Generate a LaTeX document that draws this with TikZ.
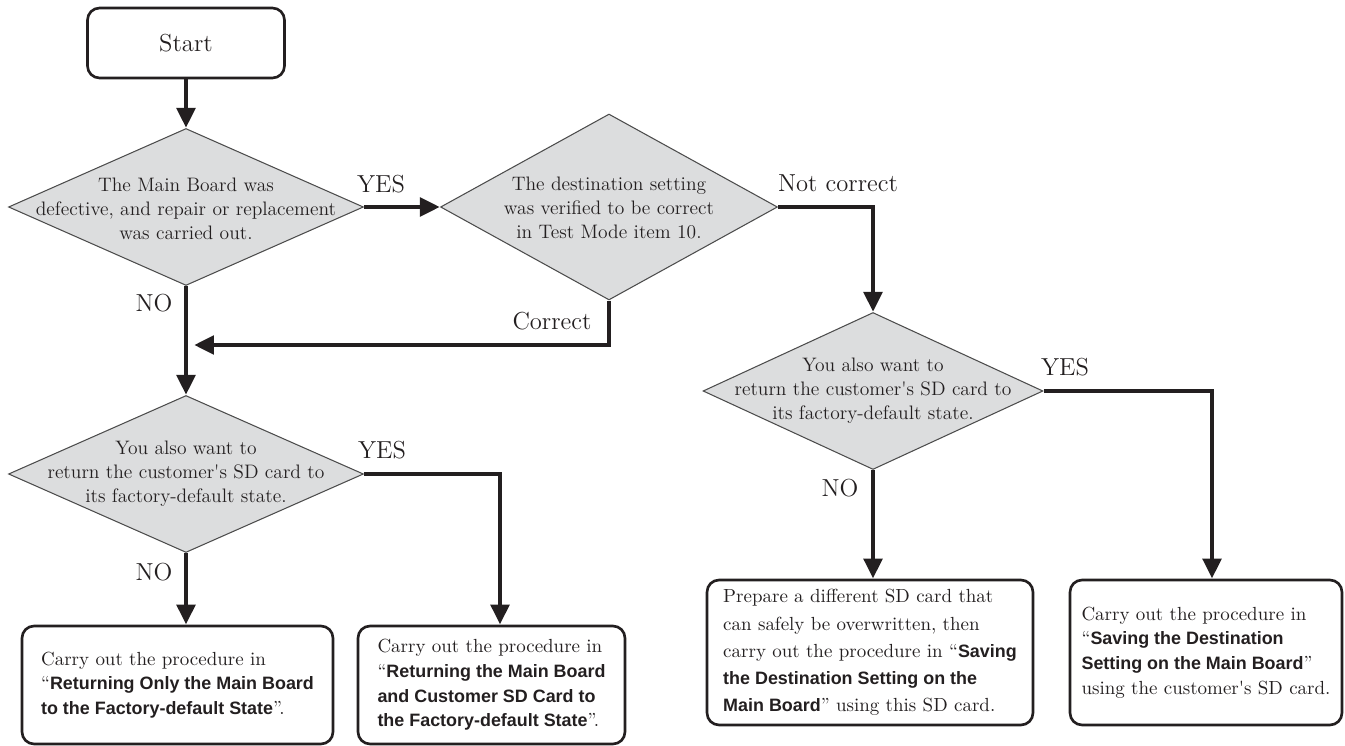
\documentclass[tikz,border=0pt]{standalone}
\usepackage{fontspec}
\newfontfamily\hv{Liberation Sans}
\usetikzlibrary{shapes.geometric,arrows.meta}
\definecolor{ink}{HTML}{231F20}
\definecolor{dfill}{HTML}{DCDDDE}
\newcommand{\refproc}[1]{{\hv\bfseries\fontsize{10.2}{14}\selectfont #1}}

\begin{document}
\begin{tikzpicture}[x=0.02cm,y=-0.02cm,
  flow/.style={draw=ink,line width=2.8pt,-{Triangle[length=0.4cm,width=0.36cm]}},
  decision/.style={diamond,draw=black!70,fill=dfill,line width=0.6pt,inner sep=0pt},
  dtext/.style={align=center,text=ink,font=\fontsize{11.1}{13.7}\selectfont},
  proc/.style={draw=ink,line width=1.5pt,rounded corners=0.24cm,align=left,text=ink,
    font=\fontsize{10.8}{14}\selectfont},
  lbl/.style={text=ink,inner sep=0pt,font=\fontsize{14}{16}\selectfont}]
\useasboundingbox (0,0) rectangle (1345,746);

\node[proc,align=center,minimum width=3.94cm,minimum height=1.4cm,font=\fontsize{14}{16}\selectfont] (start) at (186,43) {Start};

\node[decision,minimum width=7.1cm,minimum height=3.14cm] (d1) at (186,207) {};
\node[dtext] (d1t) at (186,209) {The Main Board was\\defective, and repair or replacement\\was carried out.};
\node[decision,minimum width=6.74cm,minimum height=3.72cm] (d2) at (609,207) {};
\node[dtext] (d2t) at (609,208) {The destination setting\\was verified to be correct\\in Test Mode item 10.};
\node[decision,minimum width=6.8cm,minimum height=3.14cm] (d3) at (873,391) {};
\node[dtext] (d3t) at (873,391) {You also want to\\return the customer\textquotesingle s SD card to\\its factory-default state.};
\node[decision,minimum width=7.1cm,minimum height=3.14cm] (d4) at (186,474) {};
\node[dtext] (d4t) at (186,474) {You also want to\\return the customer\textquotesingle s SD card to\\its factory-default state.};

\node[proc,minimum width=6.22cm,minimum height=2.36cm] (b1) at (177.5,685)
  {Carry out the procedure in\\``\refproc{Returning Only the Main Board}\\\refproc{to the Factory-default State}''.};
\node[proc,minimum width=5.34cm,minimum height=2.36cm] (b2) at (491.5,685)
  {Carry out the procedure in\\``\refproc{Returning the Main Board}\\\refproc{and Customer SD Card to}\\\refproc{the Factory-default State}''.};
\node[proc,minimum width=6.52cm,minimum height=2.9cm,font=\fontsize{10.8}{15.5}\selectfont] (b3) at (870,652.5)
  {Prepare a different SD card that\\can safely be overwritten, then\\carry out the procedure in ``\refproc{Saving}\\\refproc{the Destination Setting on the}\\\refproc{Main Board}'' using this SD card.};
\node[proc,minimum width=5.44cm,minimum height=2.9cm] (b4) at (1206,652.5)
  {Carry out the procedure in\\``\refproc{Saving the Destination}\\\refproc{Setting on the Main Board}''\\using the customer\textquotesingle s SD card.};

\foreach \x/\y/\t [count=\i] in {381/184/YES,154/303/NO,552/321/Correct,838/183/Not correct,
    382/450/YES,154/572/NO,1065/367/YES,840/488/NO}
  \node[lbl] (lbl\i) at (\x,\y) {\t};

\coordinate (merge) at (194,345);
\draw[flow] (start) -- (d1);
\draw[flow] (d1) -- (d2);
\draw[flow] (d1) -- (d4);
\draw[flow] (d2.south) |- (merge);
\draw[flow] (d2.east) -| (d3.north);
\draw[flow] (d4.south) -- (d4.south |- b1.north);
\draw[flow] (d4.east) -| ([xshift=0.17cm]b2.north);
\draw[flow] (d3.south) -- (d3.south |- b3.north);
\draw[flow] (d3.east) -| ([xshift=0.12cm]b4.north);
\end{tikzpicture}
\end{document}
